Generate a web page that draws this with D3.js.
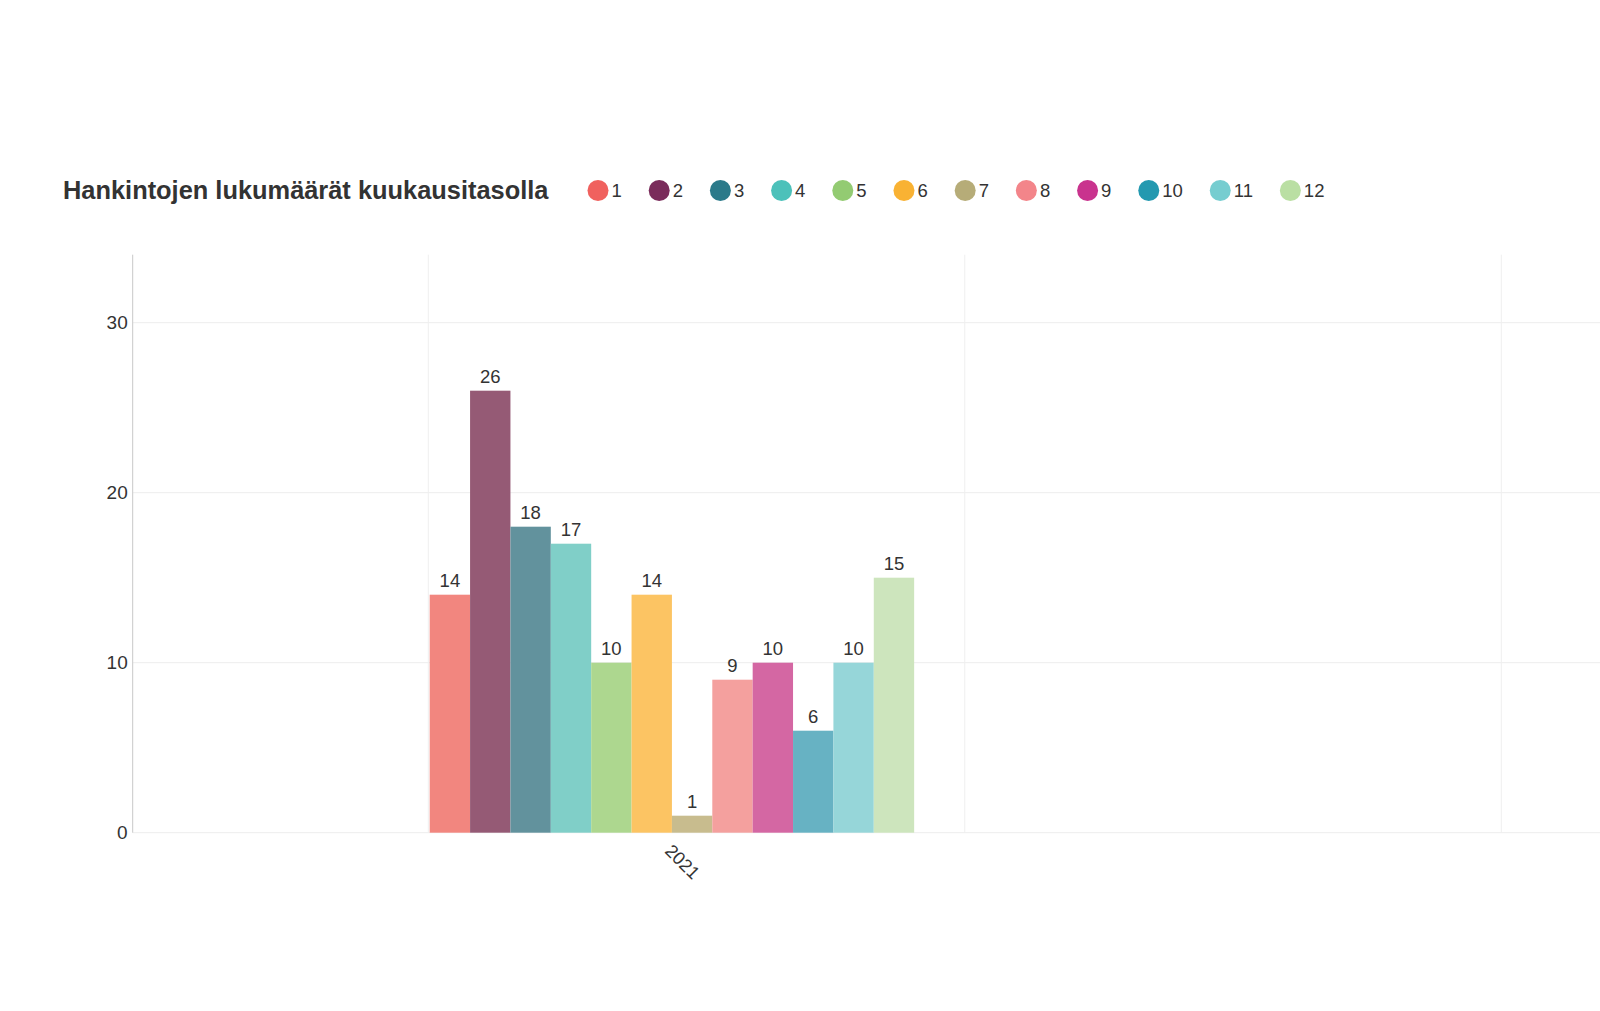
<!DOCTYPE html>
<html>
<head>
<meta charset="utf-8">
<script src="https://cdn.jsdelivr.net/npm/d3@7"></script>
<style>
  html, body { margin: 0; padding: 0; background: #ffffff; }
  svg { display: block; font-family: "Liberation Sans", Arial, sans-serif; }
</style>
</head>
<body>
<svg id="chart" width="1600" height="1011"></svg>
<script>
// ---- data ----
const title = "Hankintojen lukumäärät kuukausitasolla";
const months = ["1", "2", "3", "4", "5", "6", "7", "8", "9", "10", "11", "12"];
const counts = [14, 26, 18, 17, 10, 14, 1, 9, 10, 6, 10, 15];
const year = 2021;
const gridYears = [2021, 2022, 2023];
const yTicks = [0, 10, 20, 30];

// ---- styles ----
const legendColors = ["#F0615E", "#7A2C5B", "#2B7A8A", "#4CC1BA", "#93CB72", "#F9B233",
                      "#B6AC78", "#F3858A", "#C9338E", "#2399B0", "#76CDD0", "#BADFA3"];
const barColors = ["#F2867F", "#955A75", "#62929D", "#80CFC8", "#ADD78F", "#FCC463",
                   "#C8BC8E", "#F4A09E", "#D467A3", "#67B2C3", "#96D6D9", "#CDE5BD"];
const textColor = "#333333";

const svg = d3.select("#chart");
const plot = { left: 132.7, right: 1600, top: 254.7, bottom: 832.7 };

// scales
const x = d3.scaleLinear().domain([2020.449, 2023.184]).range([plot.left, plot.right]);
const y = d3.scaleLinear().domain([0, 34]).range([plot.bottom, plot.top]);
const xb = d3.scaleBand().domain(months)
  .range([x(year + 0.0026), x(year + 0.9056)]).padding(0);

// horizontal gridlines
svg.append("g").selectAll("line").data(yTicks).join("line")
  .attr("x1", plot.left).attr("x2", plot.right)
  .attr("y1", d => y(d)).attr("y2", d => y(d))
  .attr("stroke", "#EDEDED").attr("stroke-width", 1);

// vertical gridlines
svg.append("g").selectAll("line").data(gridYears).join("line")
  .attr("x1", d => x(d)).attr("x2", d => x(d))
  .attr("y1", plot.top).attr("y2", plot.bottom)
  .attr("stroke", "#EFEFEF").attr("stroke-width", 1);

// y axis
const yAxis = svg.append("g")
  .attr("transform", `translate(${plot.left},0)`)
  .call(d3.axisLeft(y).tickValues(yTicks).tickSize(0).tickPadding(5));
yAxis.select(".domain").attr("stroke", "#C8C8C8").attr("d", `M0,${plot.top}V${plot.bottom}`);
yAxis.selectAll("text").attr("font-size", 19).attr("fill", textColor)
  .attr("font-family", "'Liberation Sans', Arial, sans-serif");

// bars
const data = months.map((m, i) => ({ m, v: counts[i], i }));
svg.append("g").selectAll("rect").data(data).join("rect")
  .attr("x", d => xb(d.m)).attr("width", xb.bandwidth())
  .attr("y", d => y(d.v)).attr("height", d => y(0) - y(d.v))
  .attr("fill", d => barColors[d.i]);

// value labels
svg.append("g").selectAll("text").data(data).join("text")
  .attr("x", d => xb(d.m) + xb.bandwidth() / 2)
  .attr("y", d => y(d.v) - 7.6)
  .attr("text-anchor", "middle")
  .attr("font-size", 18.5).attr("fill", textColor)
  .text(d => d.v);

// x label
const groupCenter = (xb.range()[0] + xb.range()[1]) / 2;
svg.append("text")
  .attr("transform", `translate(${groupCenter - 8},852) rotate(45)`)
  .attr("text-anchor", "start")
  .attr("font-size", 18).attr("fill", textColor)
  .text(String(year));

// title
svg.append("text")
  .attr("x", 63).attr("y", 199)
  .attr("font-size", 25.4).attr("font-weight", "bold").attr("fill", textColor)
  .text(title);

// legend
const legend = svg.append("g");
let cx = 598;
months.forEach((m, i) => {
  legend.append("circle").attr("cx", cx).attr("cy", 190.5).attr("r", 10.5)
    .attr("fill", legendColors[i]);
  const t = legend.append("text").attr("x", cx + 13.5).attr("y", 197)
    .attr("font-size", 18.5).attr("fill", textColor).text(m);
  cx += 13.5 + t.node().getComputedTextLength() + 37.4;
});
</script>
</body>
</html>
